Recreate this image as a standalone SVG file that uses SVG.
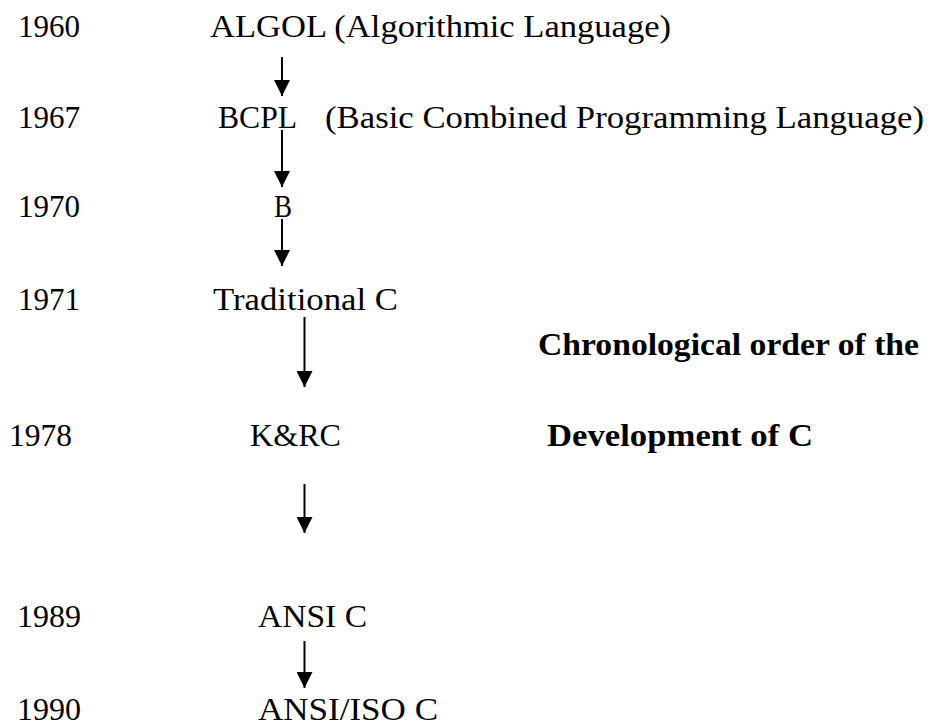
<svg xmlns="http://www.w3.org/2000/svg" width="928" height="726" viewBox="0 0 928 726">
<style>
text{font-family:"Liberation Serif","Times New Roman",serif;font-size:32px;fill:#000}
.b{font-weight:bold}
.c line{stroke:#000;stroke-width:2}
</style>
<defs>
<marker id="ah" viewBox="0 0 18 16" refX="16" refY="8" markerWidth="18" markerHeight="16" markerUnits="userSpaceOnUse" orient="auto">
<path d="M0,0 L16,8 L0,16 Z" fill="#000"/>
</marker>
</defs>
<rect width="928" height="726" fill="#fff"/>
<g id="years">
<text x="18" y="37" textLength="62" lengthAdjust="spacingAndGlyphs">1960</text>
<text x="18" y="128" textLength="62" lengthAdjust="spacingAndGlyphs">1967</text>
<text x="18" y="217" textLength="62" lengthAdjust="spacingAndGlyphs">1970</text>
<text x="18" y="310" textLength="62" lengthAdjust="spacingAndGlyphs">1971</text>
<text x="9" y="446" textLength="63" lengthAdjust="spacingAndGlyphs">1978</text>
<text x="17" y="627" textLength="64" lengthAdjust="spacingAndGlyphs">1989</text>
<text x="17" y="720" textLength="64" lengthAdjust="spacingAndGlyphs">1990</text>
</g>
<g id="algol"><text x="210" y="37" textLength="461" lengthAdjust="spacingAndGlyphs">ALGOL (Algorithmic Language)</text></g>
<g id="bcpl">
<text x="218" y="128" textLength="79" lengthAdjust="spacingAndGlyphs">BCPL</text>
<text x="325" y="128" textLength="599" lengthAdjust="spacingAndGlyphs">(Basic Combined Programming Language)</text>
</g>
<g id="b"><text x="274" y="217" textLength="18" lengthAdjust="spacingAndGlyphs">B</text></g>
<g id="tradc"><text x="213" y="310" textLength="185" lengthAdjust="spacingAndGlyphs">Traditional C</text></g>
<g id="krc"><text x="250" y="446" textLength="91" lengthAdjust="spacingAndGlyphs">K&amp;RC</text></g>
<g id="ansic"><text x="258" y="627" textLength="109" lengthAdjust="spacingAndGlyphs">ANSI C</text></g>
<g id="ansiiso"><text x="258" y="720" textLength="180" lengthAdjust="spacingAndGlyphs">ANSI/ISO C</text></g>
<g id="title">
<text class="b" x="538" y="355" textLength="381" lengthAdjust="spacingAndGlyphs">Chronological order of the</text>
<text class="b" x="547" y="446" textLength="266" lengthAdjust="spacingAndGlyphs">Development of C</text>
</g>
<g class="c" id="connectors">
<line x1="282" y1="57" x2="282" y2="96" marker-end="url(#ah)"/>
<line x1="282" y1="130" x2="282" y2="187" marker-end="url(#ah)"/>
<line x1="282" y1="219" x2="282" y2="266" marker-end="url(#ah)"/>
<line x1="304.5" y1="317" x2="304.5" y2="387" marker-end="url(#ah)"/>
<line x1="304.5" y1="484" x2="304.5" y2="533" marker-end="url(#ah)"/>
<line x1="304.5" y1="641" x2="304.5" y2="688" marker-end="url(#ah)"/>
</g>
</svg>
